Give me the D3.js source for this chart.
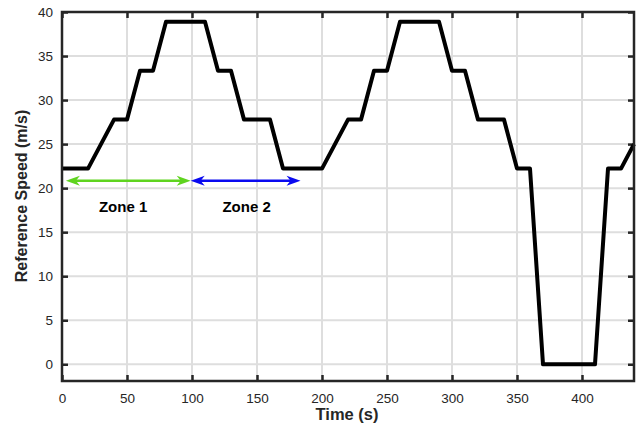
<!DOCTYPE html>
<html>
<head>
<meta charset="utf-8">
<title>Reference speed</title>
<style type="text/css">
	body { margin: 0; background: #fff; }
	text { font-family: "Liberation Sans", Arial, sans-serif; }
</style>
</head>
<body>
<script src="https://d3js.org/d3.v7.min.js"></script>
<script type="text/javascript">
	// speed profile (m/s) vs time (s)
	const time  = [0, 20, 40, 50, 60, 70, 80, 110, 120, 130, 140, 160, 170, 200, 220, 230, 240, 250, 260, 290, 300, 310, 320, 340, 350, 360, 370, 410, 420, 430, 440];
	const speed = [22.22, 22.22, 27.78, 27.78, 33.33, 33.33, 38.89, 38.89, 33.33, 33.33, 27.78, 27.78, 22.22, 22.22, 27.78, 27.78, 33.33, 33.33, 38.89, 38.89, 33.33, 33.33, 27.78, 27.78, 22.22, 22.22, 0, 0, 22.22, 22.22, 25];

	const xTicks = [0, 50, 100, 150, 200, 250, 300, 350, 400];
	const yTicks = [0, 5, 10, 15, 20, 25, 30, 35, 40];

	// zone arrows
	const zoneNames = ['Zone 1', 'Zone 2'];
	const zoneStart = [3, 99];
	const zoneEnd   = [99, 183.5];
	const zoneLevel = [20.85, 20.85];
	const zoneColor = ['#5fd41f', '#0a0af0'];
	const zoneLabelX = [47, 142];
	const zoneLabelY = 17.3;

	const w = 636;
	const h = 430;
	const margin = {top: 12, right: 2, bottom: 49, left: 62};
	const inner_w = w - margin.left - margin.right;
	const inner_h = h - margin.top - margin.bottom;

	const svg = d3.select('body').append('svg')
		.attr('width', w)
		.attr('height', h);

	const g = svg.append('g').attr('transform', `translate(${margin.left},${margin.top})`);

	const x = d3.scaleLinear().domain([0, 440]).range([0, inner_w]);
	const y = d3.scaleLinear().domain([-1.9, 40]).range([inner_h, 0]);

	// grid
	g.append('g').selectAll('line')
		.data(xTicks.filter(d => d > 0)).enter().append('line')
		.attr('x1', d => x(d)).attr('x2', d => x(d))
		.attr('y1', 0).attr('y2', inner_h)
		.attr('stroke', '#dedede').attr('stroke-width', 2);
	g.append('g').selectAll('line')
		.data(yTicks.filter(d => d < 40)).enter().append('line')
		.attr('x1', 0).attr('x2', inner_w)
		.attr('y1', d => y(d)).attr('y2', d => y(d))
		.attr('stroke', '#dedede').attr('stroke-width', 2);

	// axes, ticks pointing inward
	const axCol = '#262626';
	function styleAxis(sel) {
		sel.select('.domain').remove();
		sel.selectAll('.tick line').attr('stroke', axCol).attr('stroke-width', 2.5);
		sel.selectAll('.tick text').attr('fill', axCol).style('font-size', '13.5px')
			.style('font-family', '"Liberation Sans", Arial, sans-serif');
	}
	g.append('g').attr('transform', `translate(0,${inner_h})`)
		.call(d3.axisBottom(x).tickValues(xTicks).tickSizeInner(-6).tickSizeOuter(0).tickPadding(12))
		.call(styleAxis);
	g.append('g')
		.call(d3.axisLeft(y).tickValues(yTicks).tickSizeInner(-6).tickSizeOuter(0).tickPadding(9))
		.call(styleAxis);
	g.append('g')
		.call(d3.axisTop(x).tickValues(xTicks).tickSizeInner(-6).tickSizeOuter(0).tickFormat(''))
		.call(styleAxis);
	g.append('g').attr('transform', `translate(${inner_w},0)`)
		.call(d3.axisRight(y).tickValues(yTicks).tickSizeInner(-6).tickSizeOuter(0).tickFormat(''))
		.call(styleAxis);

	// speed line
	const pts = time.map((t, i) => [t, speed[i]]);
	g.append('path')
		.datum(pts)
		.attr('fill', 'none')
		.attr('stroke', '#000')
		.attr('stroke-width', 4)
		.attr('stroke-linejoin', 'round')
		.attr('d', d3.line().x(d => x(d[0])).y(d => y(d[1])));

	// frame
	g.append('rect')
		.attr('x', 0).attr('y', 0)
		.attr('width', inner_w).attr('height', inner_h)
		.attr('fill', 'none').attr('stroke', axCol).attr('stroke-width', 2.5);

	// zone arrows
	function head(tx, ty, dir) {
		const L = 14, H = 5, N = 4;
		return `M${tx},${ty} L${tx + dir * L},${ty - H} L${tx + dir * (L - N)},${ty} L${tx + dir * L},${ty + H} Z`;
	}
	zoneNames.forEach((name, i) => {
		const x0 = x(zoneStart[i]), x1 = x(zoneEnd[i]), yy = y(zoneLevel[i]);
		g.append('line')
			.attr('x1', x0 + 6).attr('x2', x1 - 6)
			.attr('y1', yy).attr('y2', yy)
			.attr('stroke', zoneColor[i]).attr('stroke-width', 2.5);
		g.append('path').attr('d', head(x0, yy, 1)).attr('fill', zoneColor[i]);
		g.append('path').attr('d', head(x1, yy, -1)).attr('fill', zoneColor[i]);
		g.append('text')
			.attr('x', x(zoneLabelX[i])).attr('y', y(zoneLabelY))
			.attr('text-anchor', 'middle')
			.style('font-size', '15px').style('font-weight', 'bold')
			.attr('fill', '#000')
			.text(name);
	});

	// axis labels
	svg.append('text')
		.attr('x', 347).attr('y', 420)
		.attr('text-anchor', 'middle')
		.style('font-size', '16.5px').style('font-weight', 'bold')
		.attr('fill', axCol)
		.text('Time (s)');
	svg.append('text')
		.attr('transform', `translate(27,196) rotate(-90)`)
		.attr('text-anchor', 'middle')
		.style('font-size', '16px').style('font-weight', 'bold')
		.attr('fill', axCol)
		.text('Reference Speed (m/s)');
</script>
</body>
</html>
